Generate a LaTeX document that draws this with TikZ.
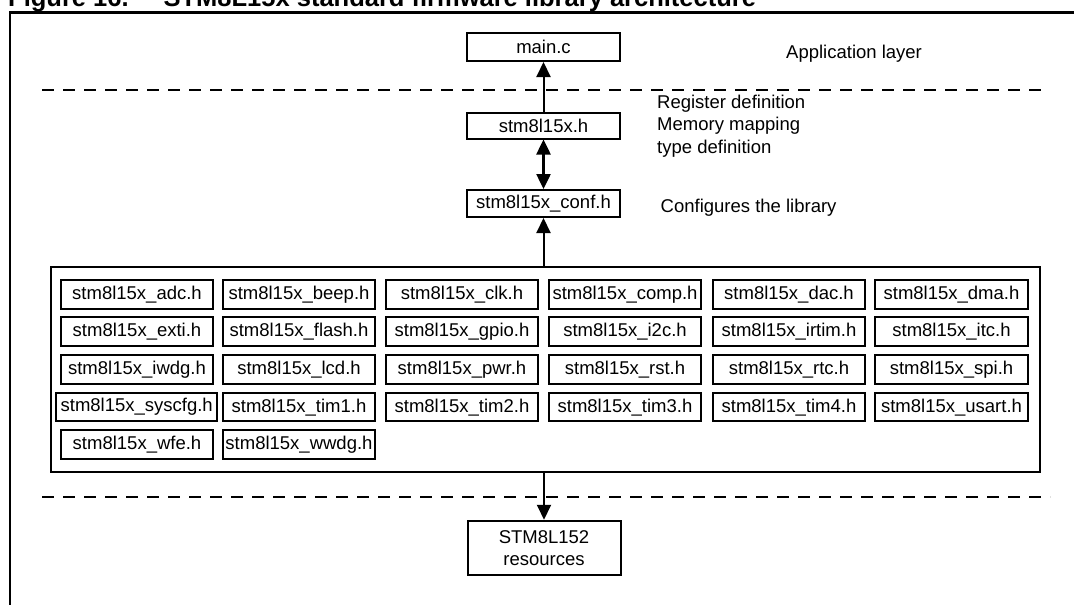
\documentclass[tikz,border=0pt]{standalone}
\usepackage{fontspec}
\setmainfont{Liberation Sans}
\usetikzlibrary{arrows.meta}
\begin{document}
\begin{tikzpicture}[x=1pt,y=-1pt,
  box/.style={draw,line width=2pt,inner ysep=0pt,inner xsep=2.5pt,font=\fontsize{18.5}{21.7}\selectfont},
  hfile/.style={box,minimum width=152.5pt,minimum height=28.5pt},
  txt/.style={inner sep=0pt,anchor=base west,font=\fontsize{18.5}{22}\selectfont},
  tip/.tip={Triangle[length=15pt,width=14pt]},
  arr/.style={line width=2pt,-tip},
  sepline/.style={line width=2pt,dash pattern=on 12pt off 9pt}]
% canvas
\path[use as bounding box] (0,0) rectangle (1074,605);
\clip (0,0) rectangle (1074,605);
\fill[white] (0,0) rectangle (1074,605);
% title (cut off by the top edge)
\node[anchor=base west,inner sep=0pt,font=\bfseries\fontsize{25.5}{30}\selectfont] (title) at (8,6)
  {Figure 16.\hspace{35pt}STM8L15x standard firmware library architecture};
% outer frame
\coordinate (fa) at (1080,12.5);
\coordinate (fb) at (10,12.5);
\coordinate (fc) at (10,612);
\draw[line width=2.3pt] (fa) -- (fb) -- (fc);
% layer separators
\coordinate (d1a) at (42,90);
\coordinate (d1b) at (1048,90);
\coordinate (d2a) at (42,496.7);
\coordinate (d2b) at (1050,496.7);
\draw[sepline] (d1a) -- (d1b);
\draw[sepline] (d2a) -- (d2b);
% main chain
\node[box,minimum width=153pt,minimum height=28pt] (main) at (543.5,47) {main.c};
\node[box,minimum width=153pt,minimum height=26pt] (stmh) at (543.5,125.5) {stm8l15x.h};
\node[box,minimum width=153pt,minimum height=27pt] (conf) at (543.5,203.5) {stm8l15x\_conf.h};
\node[draw,line width=2pt,inner sep=0pt,minimum width=989.5pt,minimum height=205pt] (lib) at (545.5,369.2) {};
\node[box,align=center,minimum width=153pt,minimum height=54.5pt] (res) at (544,548) {STM8L152\\resources};
% side labels
\node[txt] (app) at (786,58) {Application layer};
\node[txt] (reg1) at (657,108) {Register definition};
\node[txt] (reg2) at (657,130.5) {Memory mapping};
\node[txt] (reg3) at (657,153) {type definition};
\node[txt] (cfg) at (660.5,212) {Configures the library};
% header files
\foreach \nm/\cx in {adc/137,beep/299,clk/462,comp/625,dac/789,dma/951.5}
  \node[hfile] (f-\nm) at (\cx,294.3) {stm8l15x\_\nm.h};
\foreach \nm/\cx in {exti/137,flash/299,gpio/462,i2c/625,irtim/789,itc/951.5}
  \node[hfile] (f-\nm) at (\cx,331.7) {stm8l15x\_\nm.h};
\foreach \nm/\cx in {iwdg/137,lcd/299,pwr/462,rst/625,rtc/789,spi/951.5}
  \node[hfile] (f-\nm) at (\cx,369.5) {stm8l15x\_\nm.h};
\node[hfile,minimum width=161pt] (f-syscfg) at (136.7,407.2) {stm8l15x\_syscfg.h};
\foreach \nm/\cx in {tim1/299,tim2/462,tim3/625,tim4/789,usart/951.5}
  \node[hfile] (f-\nm) at (\cx,407.2) {stm8l15x\_\nm.h};
\foreach \nm/\cx in {wfe/137,wwdg/299}
  \node[hfile] (f-\nm) at (\cx,444.7) {stm8l15x\_\nm.h};
% connectors
\draw[arr] (stmh) -- (main);
\draw[line width=2.5pt,tip-tip] (stmh) -- (conf);
\coordinate (libtop) at (lib.north -| conf.south);
\coordinate (libbot) at (lib.south -| res.north);
\draw[arr] (libtop) -- (conf.south);
\draw[arr] (libbot) -- (res.north);
\end{tikzpicture}
\end{document}
